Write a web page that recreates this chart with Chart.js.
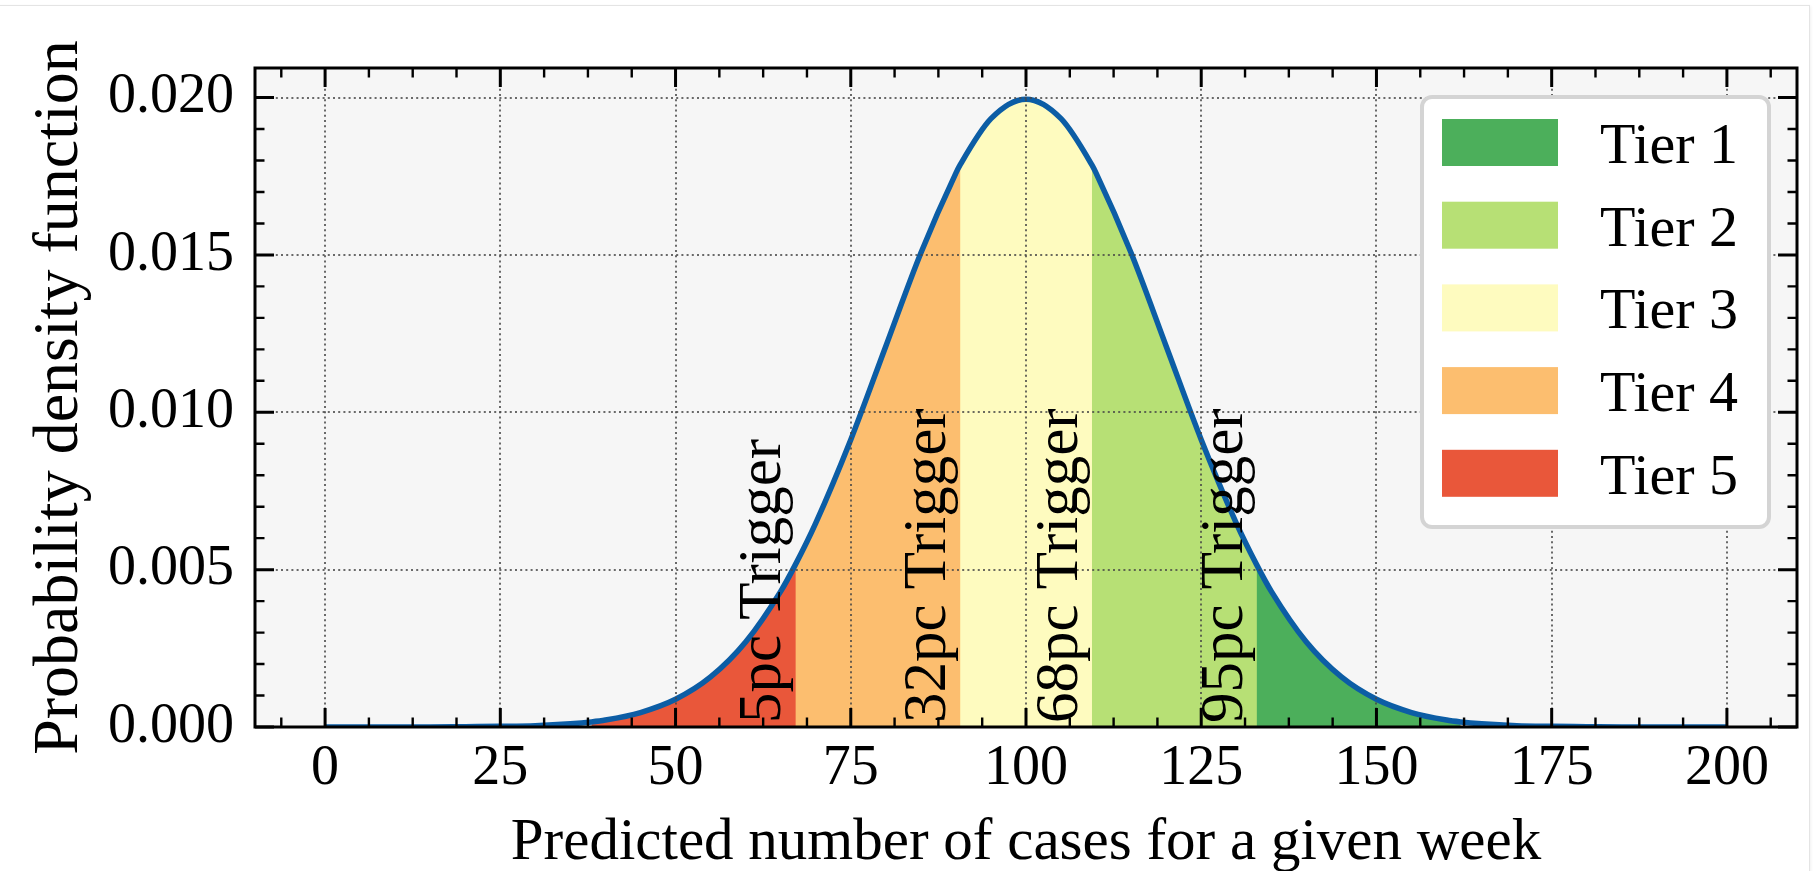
<!DOCTYPE html>
<html lang="en">
<head>
<meta charset="UTF-8">
<title>Tier triggers</title>
<script src="https://cdn.jsdelivr.net/npm/chart.js"></script>
<style>
    html, body { margin: 0; padding: 0; background: #fff; overflow: hidden; }
    /* light card edge visible at top and right of the screenshot */
    .card {
        position: absolute; left: -20px; top: 5px; width: 1828px; height: 1000px;
        border: 1px solid #e4e4e4; box-shadow: 1px 1px 3px rgba(0, 0, 0, 0.06);
    }
    #pdfChart { position: absolute; left: 0; top: 0; }
</style>
</head>
<body>
<div class="card"></div>
<canvas id="pdfChart" width="1817" height="871"></canvas>

<script>
// values
const xs = [0, 5, 10, 15, 20, 25, 30, 35, 38, 40, 45, 50, 55, 60, 65, 67.1, 70, 75, 80, 85, 90, 90.6,
            95, 100, 105, 109.4, 110, 115, 120, 125, 130, 132.9, 135, 140, 145, 150, 155, 160, 162,
            165, 170, 175, 180, 185, 190, 195, 200];
const density = [0, 0, 0, 0, 0.00001, 0.00002, 0.00004, 0.00010, 0.00016, 0.00022, 0.00046, 0.00088,
                 0.00159, 0.00270, 0.00431, 0.00516, 0.00648, 0.00913, 0.01210, 0.01506, 0.01760, 0.01786,
                 0.01933, 0.01995, 0.01933, 0.01786, 0.01760, 0.01506, 0.01210, 0.00913, 0.00648, 0.00516,
                 0.00431, 0.00270, 0.00159, 0.00088, 0.00046, 0.00022, 0.00016,
                 0.00010, 0.00004, 0.00002, 0.00001, 0, 0, 0, 0];

// each tier is filled from its lower trigger up to the end of the shaded range;
// the next tier is painted over it, so bands meet without seams
const tierNames = ['Tier 1', 'Tier 2', 'Tier 3', 'Tier 4', 'Tier 5'];
const tierFrom = [132.9, 109.4, 90.6, 67.1, 38];
const shadeEnd = 162;
const tierColors = ['#4caf5b', '#b7e075', '#fefbbf', '#fcbe6f', '#e9573a'];

const triggerX = [67.1, 90.6, 109.4, 132.9];
const triggerLabels = ['5pc Trigger', '32pc Trigger', '68pc Trigger', '95pc Trigger'];

const xTicks = [0, 25, 50, 75, 100, 125, 150, 175, 200];
const xTickLabels = ['0', '25', '50', '75', '100', '125', '150', '175', '200'];
const yTicks = [0, 0.005, 0.010, 0.015, 0.020];
const yTickLabels = ['0.000', '0.005', '0.010', '0.015', '0.020'];

const SERIF = '"Liberation Serif", "Times New Roman", serif';

const points = xs.map((x, i) => ({ x: x, y: density[i] }));

const tierSets = tierNames.map((name, i) => ({
    label: name,
    data: points.filter(p => p.x >= tierFrom[i] && p.x <= shadeEnd),
    backgroundColor: tierColors[i],
    borderWidth: 0,
    pointRadius: 0,
    fill: 'origin',
    cubicInterpolationMode: 'monotone',
    order: i + 2
}));

const curveSet = {
    label: 'pdf',
    data: points,
    borderColor: '#0c5da5',
    borderWidth: 5.5,
    pointRadius: 0,
    fill: false,
    cubicInterpolationMode: 'monotone',
    order: 0
};

// plot background, inward ticks on all four sides, trigger texts and the boxed legend
const decorations = {
    id: 'decorations',
    beforeDraw(chart) {
        const { ctx, chartArea: a } = chart;
        ctx.save();
        ctx.fillStyle = '#f6f6f6';
        ctx.fillRect(a.left, a.top, a.right - a.left, a.bottom - a.top);
        ctx.restore();
    },
    afterDraw(chart) {
        const { ctx, chartArea: a, scales: { x, y } } = chart;

        ctx.save();
        ctx.fillStyle = '#000';
        ctx.font = '61px ' + SERIF;
        ctx.textBaseline = 'alphabetic';
        triggerX.forEach((v, i) => {
            ctx.save();
            ctx.translate(x.getPixelForValue(v) - 15, y.getPixelForValue(0) - 4);
            ctx.rotate(-Math.PI / 2);
            ctx.fillText(triggerLabels[i], 0, 0);
            ctx.restore();
        });
        ctx.restore();

        const xMinor = [];
        for (let v = -6.25; v < 210; v += 6.25) if (v % 25 !== 0) xMinor.push(v);
        const yMinor = [];
        for (let k = 1; k < 21; k++) if (k % 5 !== 0) yMinor.push(k / 1000);

        ctx.save();
        ctx.strokeStyle = '#000';
        const tick = (vals, len, width) => {
            ctx.lineWidth = width;
            ctx.beginPath();
            vals.forEach(v => {
                const px = x.getPixelForValue(v);
                ctx.moveTo(px, a.bottom); ctx.lineTo(px, a.bottom - len);
                ctx.moveTo(px, a.top); ctx.lineTo(px, a.top + len);
            });
            ctx.stroke();
        };
        const ytick = (vals, len, width) => {
            ctx.lineWidth = width;
            ctx.beginPath();
            vals.forEach(v => {
                const py = y.getPixelForValue(v);
                ctx.moveTo(a.left, py); ctx.lineTo(a.left + len, py);
                ctx.moveTo(a.right, py); ctx.lineTo(a.right - len, py);
            });
            ctx.stroke();
        };
        tick(xTicks, 19, 3);
        tick(xMinor, 9.5, 2.4);
        ytick(yTicks, 19, 3);
        ytick(yMinor, 9.5, 2.4);
        ctx.lineWidth = 3;
        ctx.strokeRect(a.left, a.top, a.right - a.left, a.bottom - a.top);
        ctx.restore();

        // legend box
        const lx = 1422, ly = 97, lw = 347, lh = 430, r = 10;
        ctx.save();
        ctx.beginPath();
        ctx.moveTo(lx + r, ly);
        ctx.arcTo(lx + lw, ly, lx + lw, ly + lh, r);
        ctx.arcTo(lx + lw, ly + lh, lx, ly + lh, r);
        ctx.arcTo(lx, ly + lh, lx, ly, r);
        ctx.arcTo(lx, ly, lx + lw, ly, r);
        ctx.closePath();
        ctx.fillStyle = '#fff';
        ctx.fill();
        ctx.lineWidth = 4;
        ctx.strokeStyle = '#d4d4d4';
        ctx.stroke();
        ctx.font = '58px ' + SERIF;
        ctx.textBaseline = 'alphabetic';
        tierNames.forEach((name, i) => {
            const top = ly + 22 + i * 82.7;
            ctx.fillStyle = tierColors[i];
            ctx.fillRect(lx + 20, top, 116, 47);
            ctx.fillStyle = '#000';
            ctx.fillText(name, lx + 178, top + 44);
        });
        ctx.restore();
    }
};

const gridOpts = { color: 'rgba(70, 70, 70, 0.8)', lineWidth: 2, drawTicks: false, z: 1, borderDash: [2, 3.2] };
const borderOpts = { display: false, dash: [2, 3.2] };

new Chart(document.getElementById('pdfChart'), {
    type: 'line',
    data: { datasets: [curveSet, ...tierSets] },
    options: {
        responsive: false,
        animation: false,
        layout: { padding: { top: 68, right: 20, left: 0, bottom: 0 } },
        plugins: { legend: { display: false }, tooltip: { enabled: false } },
        scales: {
            x: {
                type: 'linear',
                min: -10,
                max: 210,
                afterBuildTicks: s => { s.ticks = xTicks.map(v => ({ value: v })); },
                afterFit: s => { s.height = 144; },
                grid: gridOpts,
                border: borderOpts,
                ticks: {
                    autoSkip: false,
                    maxRotation: 0,
                    padding: 9,
                    color: '#000',
                    font: { family: SERIF, size: 56 },
                    callback: (v, i) => xTickLabels[i]
                },
                title: {
                    display: true,
                    text: 'Predicted number of cases for a given week',
                    color: '#000',
                    font: { family: SERIF, size: 59 },
                    padding: { top: 0, bottom: -8 }
                }
            },
            y: {
                min: 0,
                max: 0.02094,
                afterBuildTicks: s => { s.ticks = yTicks.map(v => ({ value: v })); },
                afterFit: s => { s.width = 255; },
                grid: gridOpts,
                border: borderOpts,
                ticks: {
                    autoSkip: false,
                    padding: 21,
                    color: '#000',
                    font: { family: SERIF, size: 56 },
                    callback: (v, i) => yTickLabels[i]
                },
                title: {
                    display: true,
                    text: 'Probability density function',
                    color: '#000',
                    font: { family: SERIF, size: 64 },
                    padding: { top: 22, bottom: 0 }
                }
            }
        }
    },
    plugins: [decorations]
});
</script>
</body>
</html>
